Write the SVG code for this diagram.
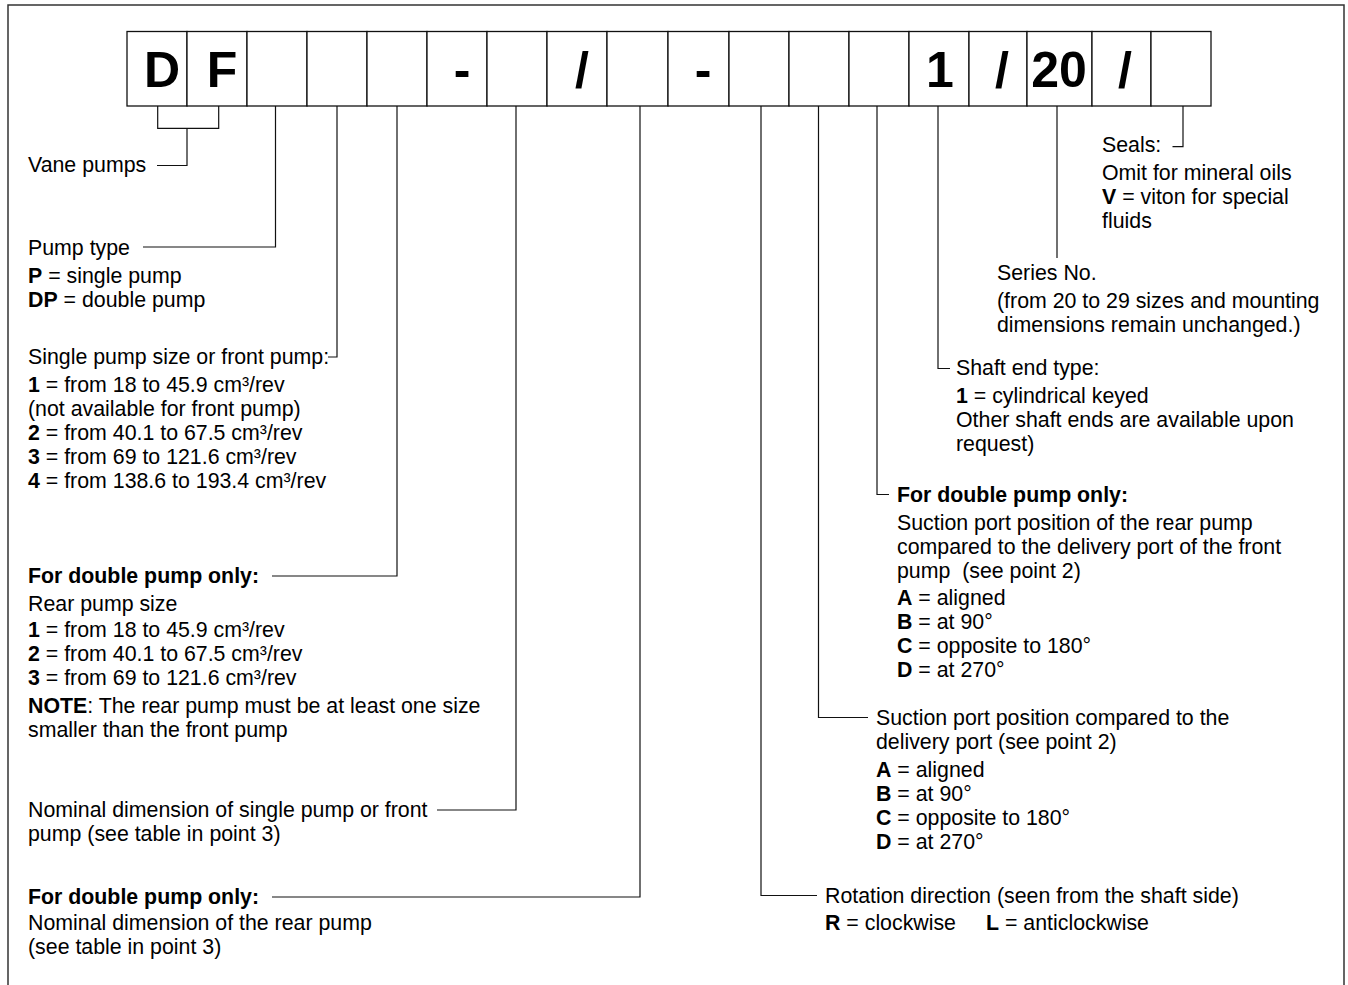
<svg xmlns="http://www.w3.org/2000/svg" width="1348" height="985" viewBox="0 0 1348 985">
<style>
.t{font-family:"Liberation Sans",Arial,Helvetica,sans-serif;font-size:21.33px;fill:#000}
.b{font-weight:bold}
.big{font-family:"Liberation Sans",Arial,Helvetica,sans-serif;font-size:50px;font-weight:bold;text-anchor:middle;fill:#000}
.cell{fill:#fff;stroke:#111;stroke-width:1.3}
.ln{fill:none;stroke:#111;stroke-width:1.2}
.frame{fill:none;stroke:#333;stroke-width:1.5}
</style>
<rect x="0" y="0" width="1348" height="985" fill="#fff"/>
<path class="frame" d="M8,990 V5 H1344 V990"/>

<g id="code">
  <g id="cell-D"><rect class="cell" x="127" y="31.5" width="60" height="74.5"/><text class="big" x="162" y="86.7">D</text></g>
  <g id="cell-F"><rect class="cell" x="187" y="31.5" width="60" height="74.5"/><text class="big" x="222" y="86.7">F</text></g>
  <g id="cell-2"><rect class="cell" x="247" y="31.5" width="60" height="74.5"/></g>
  <g id="cell-3"><rect class="cell" x="307" y="31.5" width="60" height="74.5"/></g>
  <g id="cell-4"><rect class="cell" x="367" y="31.5" width="60" height="74.5"/></g>
  <g id="cell-5"><rect class="cell" x="427" y="31.5" width="60" height="74.5"/><text class="big" x="462" y="86.7">-</text></g>
  <g id="cell-6"><rect class="cell" x="487" y="31.5" width="60" height="74.5"/></g>
  <g id="cell-7"><rect class="cell" x="547" y="31.5" width="60" height="74.5"/><text class="big" x="582" y="86.7">/</text></g>
  <g id="cell-8"><rect class="cell" x="607" y="31.5" width="61" height="74.5"/></g>
  <g id="cell-9"><rect class="cell" x="668" y="31.5" width="61" height="74.5"/><text class="big" x="703" y="86.7">-</text></g>
  <g id="cell-10"><rect class="cell" x="729" y="31.5" width="60" height="74.5"/></g>
  <g id="cell-11"><rect class="cell" x="789" y="31.5" width="60" height="74.5"/></g>
  <g id="cell-12"><rect class="cell" x="849" y="31.5" width="60" height="74.5"/></g>
  <g id="cell-13"><rect class="cell" x="909" y="31.5" width="60" height="74.5"/><text class="big" x="940" y="86.7">1</text></g>
  <g id="cell-14"><rect class="cell" x="969" y="31.5" width="58" height="74.5"/><text class="big" x="1002" y="86.7">/</text></g>
  <g id="cell-15"><rect class="cell" x="1027" y="31.5" width="65" height="74.5"/><text class="big" x="1059" y="86.7">20</text></g>
  <g id="cell-16"><rect class="cell" x="1092" y="31.5" width="59" height="74.5"/><text class="big" x="1125" y="86.7">/</text></g>
  <g id="cell-17"><rect class="cell" x="1151" y="31.5" width="60" height="74.5"/></g>
</g>

<g id="connectors">
  <path class="ln" d="M157.7,106 V128.3 H218.7 V106 M187,128.3 V165.5 H157"/>
  <path class="ln" d="M275.5,106 V247 H143"/>
  <path class="ln" d="M337,106 V357 H328"/>
  <path class="ln" d="M397,106 V576 H272"/>
  <path class="ln" d="M516,106 V810 H437"/>
  <path class="ln" d="M640,106 V897 H272"/>
  <path class="ln" d="M761,106 V895.5 H817"/>
  <path class="ln" d="M818.5,106 V717.5 H868"/>
  <path class="ln" d="M877,106 V494.5 H889"/>
  <path class="ln" d="M938,106 V368.5 H950"/>
  <path class="ln" d="M1057,106 V258"/>
  <path class="ln" d="M1183,106 V146.7 H1172.5"/>
</g>

<g id="vane-pumps"><text class="t" x="28" y="172">Vane pumps</text></g>

<g id="pump-type">
  <text class="t" x="28" y="255">Pump type</text>
  <text class="t" x="28" y="283"><tspan class="b">P</tspan> = single pump</text>
  <text class="t" x="28" y="307"><tspan class="b">DP</tspan> = double pump</text>
</g>

<g id="front-pump-size">
  <text class="t" x="28" y="364">Single pump size or front pump:</text>
  <text class="t" x="28" y="392"><tspan class="b">1</tspan> = from 18 to 45.9 cm³/rev</text>
  <text class="t" x="28" y="416">(not available for front pump)</text>
  <text class="t" x="28" y="440"><tspan class="b">2</tspan> = from 40.1 to 67.5 cm³/rev</text>
  <text class="t" x="28" y="464"><tspan class="b">3</tspan> = from 69 to 121.6 cm³/rev</text>
  <text class="t" x="28" y="488"><tspan class="b">4</tspan> = from 138.6 to 193.4 cm³/rev</text>
</g>

<g id="rear-pump-size">
  <text class="t b" x="28" y="583">For double pump only:</text>
  <text class="t" x="28" y="611">Rear pump size</text>
  <text class="t" x="28" y="637"><tspan class="b">1</tspan> = from 18 to 45.9 cm³/rev</text>
  <text class="t" x="28" y="661"><tspan class="b">2</tspan> = from 40.1 to 67.5 cm³/rev</text>
  <text class="t" x="28" y="685"><tspan class="b">3</tspan> = from 69 to 121.6 cm³/rev</text>
  <text class="t" x="28" y="713"><tspan class="b">NOTE</tspan>: The rear pump must be at least one size</text>
  <text class="t" x="28" y="737">smaller than the front pump</text>
</g>

<g id="nominal-front">
  <text class="t" x="28" y="817">Nominal dimension of single pump or front</text>
  <text class="t" x="28" y="841">pump (see table in point 3)</text>
</g>

<g id="nominal-rear">
  <text class="t b" x="28" y="904">For double pump only:</text>
  <text class="t" x="28" y="930">Nominal dimension of the rear pump</text>
  <text class="t" x="28" y="954">(see table in point 3)</text>
</g>

<g id="seals">
  <text class="t" x="1102" y="152">Seals:</text>
  <text class="t" x="1102" y="180">Omit for mineral oils</text>
  <text class="t" x="1102" y="204"><tspan class="b">V</tspan> = viton for special</text>
  <text class="t" x="1102" y="228">fluids</text>
</g>

<g id="series">
  <text class="t" x="997" y="280">Series No.</text>
  <text class="t" x="997" y="308">(from 20 to 29 sizes and mounting</text>
  <text class="t" x="997" y="332">dimensions remain unchanged.)</text>
</g>

<g id="shaft-end">
  <text class="t" x="956" y="375">Shaft end type:</text>
  <text class="t" x="956" y="403"><tspan class="b">1</tspan> = cylindrical keyed</text>
  <text class="t" x="956" y="427">Other shaft ends are available upon</text>
  <text class="t" x="956" y="451">request)</text>
</g>

<g id="rear-suction">
  <text class="t b" x="897" y="502">For double pump only:</text>
  <text class="t" x="897" y="530">Suction port position of the rear pump</text>
  <text class="t" x="897" y="554">compared to the delivery port of the front</text>
  <text class="t" x="897" y="578">pump&#160; (see point 2)</text>
  <text class="t" x="897" y="605"><tspan class="b">A</tspan> = aligned</text>
  <text class="t" x="897" y="629"><tspan class="b">B</tspan> = at 90°</text>
  <text class="t" x="897" y="653"><tspan class="b">C</tspan> = opposite to 180°</text>
  <text class="t" x="897" y="677"><tspan class="b">D</tspan> = at 270°</text>
</g>

<g id="suction">
  <text class="t" x="876" y="725">Suction port position compared to the</text>
  <text class="t" x="876" y="749">delivery port (see point 2)</text>
  <text class="t" x="876" y="777"><tspan class="b">A</tspan> = aligned</text>
  <text class="t" x="876" y="801"><tspan class="b">B</tspan> = at 90°</text>
  <text class="t" x="876" y="825"><tspan class="b">C</tspan> = opposite to 180°</text>
  <text class="t" x="876" y="849"><tspan class="b">D</tspan> = at 270°</text>
</g>

<g id="rotation">
  <text class="t" x="825" y="903">Rotation direction (seen from the shaft side)</text>
  <text class="t" x="825" y="930"><tspan class="b">R</tspan> = clockwise<tspan class="b" x="986">L</tspan> = anticlockwise</text>
</g>
</svg>
